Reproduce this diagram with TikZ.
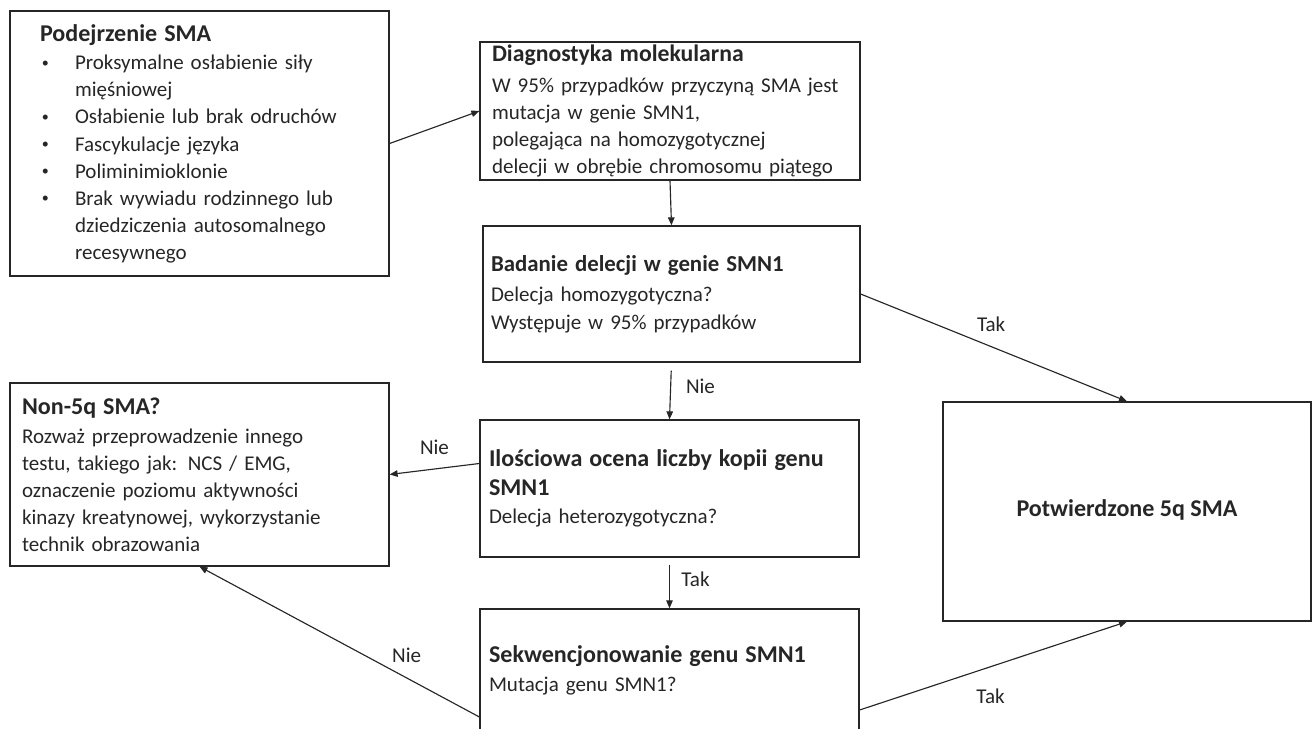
\documentclass[tikz,border=0pt]{standalone}
\usepackage{fontspec}
\setmainfont{Carlito}
\usetikzlibrary{positioning,calc,arrows.meta}

\newcommand{\boxtitle}[1]{{\fontsize{13.7}{16.5}\selectfont\bfseries #1}}
\newcommand{\bitem}{\makebox[0.7cm][l]{\hspace*{1pt}\raisebox{0.25ex}{\fontsize{8}{8}\selectfont\textbullet}}}
\newcommand{\bcont}{\hspace*{0.7cm}}

\begin{document}
\begin{tikzpicture}[
    x=0.02cm, y=-0.02cm,
    box/.style={rectangle, draw=black!85, line width=0.75pt, align=left, inner xsep=0pt, inner ysep=0pt, text=black!85, font=\fontsize{11.95}{15.4}\selectfont},
    arrow/.style={-{Triangle[length=1.6mm,width=1.3mm]}, line width=0.65pt, draw=black!85},
    choice/.style={font=\fontsize{12}{15}\selectfont, text=black!85}
]
\useasboundingbox (0,0) rectangle (1313,729);

% Suspicion box
\node[box, minimum width=7.58cm, minimum height=5.3cm, text width=6.38cm] (suspect) at (199.5,143.5) {\boxtitle{Podejrzenie SMA}\\[1pt]
\bitem Proksymalne osłabienie siły\\
\bcont mięśniowej\\
\bitem Osłabienie lub brak odruchów\\
\bitem Fascykulacje języka\\
\bitem Poliminimioklonie\\
\bitem Brak wywiadu rodzinnego lub\\
\bcont dziedziczenia autosomalnego\\
\bcont recesywnego};

% Molecular diagnostics
\node[box, minimum width=7.6cm, minimum height=2.76cm, text width=7.12cm] (molecular) at (670,111) {{\fontsize{13.5}{16}\selectfont\bfseries Diagnostyka molekularna}\\[2.5pt]
W 95\% przypadków przyczyną SMA jest\\
mutacja w genie SMN1,\\
polegająca na homozygotycznej\\
delecji w obrębie chromosomu piątego};

% Deletion test
\node[box, minimum width=7.54cm, minimum height=2.72cm, text width=7.22cm] (deletion) at (671.5,294) {{\fontsize{13}{16}\selectfont\bfseries Badanie delecji w genie SMN1}\\[2pt]
Delecja homozygotyczna?\\
Występuje w 95\% przypadków};

% Copy number
\node[box, minimum width=7.58cm, minimum height=2.74cm, text width=7.22cm] (copies) at (669.5,488.5) {\boxtitle{Ilościowa ocena liczby kopii genu}\\[1pt]
\boxtitle{SMN1}\\[1pt]
Delecja heterozygotyczna?};

% Sequencing
\node[box, minimum width=7.58cm, minimum height=2.44cm, text width=7.22cm] (sequencing) at (669.5,670) {\boxtitle{Sekwencjonowanie genu SMN1}\\[1pt]
Mutacja genu SMN1?};

% Non-5q
\node[box, minimum width=7.58cm, minimum height=3.66cm, text width=7.1cm] (nonfive) at (199.5,474.5) {\boxtitle{Non-5q SMA?}\\[1pt]
Rozważ przeprowadzenie innego\\
testu, takiego jak: NCS / EMG,\\
oznaczenie poziomu aktywności\\
kinazy kreatynowej, wykorzystanie\\
technik obrazowania};

% Confirmed
\node[box, align=center, minimum width=7.36cm, minimum height=4.38cm] (confirmed) at (1127,511.5) {\raisebox{0.12cm}{\boxtitle{Potwierdzone 5q SMA}}};

% Connectors
\draw[arrow] (suspect.east) -- (molecular.west);
\draw[arrow] (molecular.south) -- (deletion.north);
\draw[arrow] (deletion.east) -- node[choice, pos=0.49, yshift=0.44cm] {Tak} (confirmed.north);
\draw[arrow, shorten <=0.16cm] (deletion.south) -- node[choice, midway, xshift=0.6cm, yshift=0.1cm] {Nie} (copies.north);
\draw[arrow, shorten <=0.14cm] (copies.south) -- node[choice, midway, xshift=0.52cm, yshift=0.08cm] {Tak} (sequencing.north);
\draw[arrow] ($(copies.west)+(0,-25)$) -- node[choice, midway, yshift=0.44cm] {Nie} (nonfive.east);
\draw[arrow] ($(sequencing.west)+(0,47)$) -- node[choice, pos=0.26, yshift=0.46cm] {Nie} (nonfive.south);
\draw[arrow] ($(sequencing.east)+(0,40)$) -- node[choice, pos=0.49, yshift=-0.6cm] {Tak} (confirmed.south);

\end{tikzpicture}
\end{document}
